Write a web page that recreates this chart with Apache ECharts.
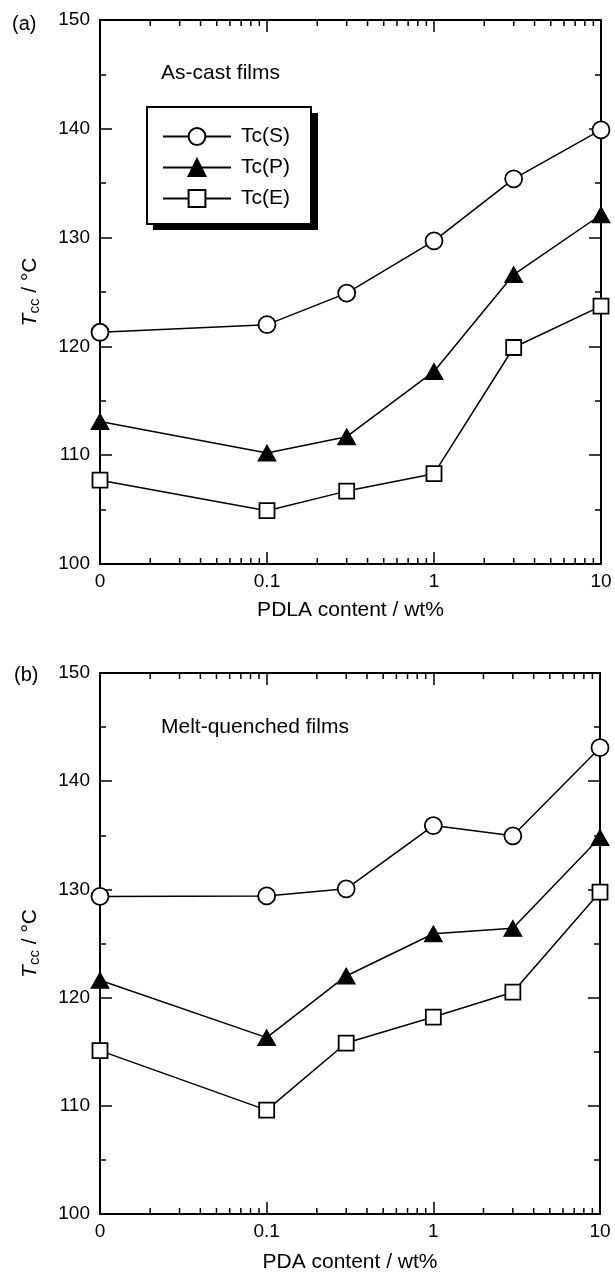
<!DOCTYPE html>
<html>
<head>
<meta charset="utf-8">
<script src="https://cdn.jsdelivr.net/npm/echarts@6/dist/echarts.min.js"></script>
<style>
html,body{margin:0;padding:0;background:#fff;}
#chart{width:615px;height:1274px;}
</style>
</head>
<body>
<div id="chart"></div>
<script>
// ---- data ----
const contents = [0, 0.1, 0.3, 1, 3, 10];           // wt%
const xTickLabels = ['0', '0.1', '1', '10'];
const yTicks = [100, 110, 120, 130, 140, 150];
const seriesNames = ['Tc(S)', 'Tc(P)', 'Tc(E)'];
const castS = [121.3, 122.0, 124.9, 129.7, 135.4, 139.9];
const castP = [113.1, 110.2, 111.7, 117.7, 126.6, 132.1];
const castE = [107.7, 104.9, 106.7, 108.3, 119.9, 123.7];
const meltS = [129.35, 129.4, 130.05, 135.9, 134.95, 143.1];
const meltP = [121.6, 116.3, 122.0, 125.9, 126.4, 134.8];
const meltE = [115.1, 109.6, 115.8, 118.2, 120.5, 129.75];
const panelLabels = ['(a)', '(b)'];
const panelNotes = ['As-cast films', 'Melt-quenched films'];
const xNames = ['PDLA content / wt%', 'PDA content / wt%'];

// ---- helpers ----
const FONT = "'Liberation Sans', Arial, Helvetica, sans-serif";
const LOG_MIN = -2, LOG_MAX = 1;           // axis spans 0.01 .. 10, "0" drawn at the left end
const pos = v => v === 0 ? LOG_MIN : Math.log10(v);
const minorVals = [];
for (let d = LOG_MIN; d < LOG_MAX; d++) for (let k = 2; k <= 9; k++) minorVals.push(Math.log10(k) + d);

const grids = [
  {left: 100, top: 20, width: 501, height: 544},
  {left: 100, top: 673, width: 500, height: 544}
];

const xAxes = [], yAxes = [], series = [];
grids.forEach((g, gi) => {
  xAxes.push({
    type: 'value', gridIndex: gi, min: LOG_MIN, max: LOG_MAX, interval: 1,
    position: 'bottom',
    axisLine: {show: true, onZero: false, lineStyle: {color: '#000', width: 2}},
    axisTick: {show: true, inside: true, length: 12, lineStyle: {color: '#000', width: 1.5}},
    axisLabel: {show: true, margin: 8, color: '#000', fontSize: 19, fontFamily: FONT,
      formatter: v => xTickLabels[Math.round(v - LOG_MIN)]},
    splitLine: {show: false},
    name: xNames[gi], nameLocation: 'middle', nameGap: gi === 0 ? 36 : 38,
    nameTextStyle: {color: '#000', fontSize: 21, fontFamily: FONT}
  });
  xAxes.push({
    type: 'value', gridIndex: gi, min: LOG_MIN, max: LOG_MAX, interval: 1,
    position: 'top',
    axisLine: {show: true, onZero: false, lineStyle: {color: '#000', width: 2}},
    axisTick: {show: true, inside: true, length: 12, lineStyle: {color: '#000', width: 1.5}},
    axisLabel: {show: false}, splitLine: {show: false}
  });
  yAxes.push({
    type: 'value', gridIndex: gi, min: yTicks[0], max: yTicks[yTicks.length - 1], interval: 10,
    position: 'left',
    axisLine: {show: true, onZero: false, lineStyle: {color: '#000', width: 2}},
    axisTick: {show: true, inside: true, length: 12, lineStyle: {color: '#000', width: 1.5}},
    minorTick: {show: true, splitNumber: 2, length: 6, lineStyle: {color: '#000', width: 1.5}},
    axisLabel: {show: true, margin: 10, color: '#000', fontSize: 19, fontFamily: FONT},
    splitLine: {show: false},
    name: '{i|T}{s|cc}{n| / °C}', nameLocation: 'middle', nameGap: 58, nameRotate: 90,
    nameTextStyle: {
      color: '#000', fontFamily: FONT,
      rich: {
        i: {fontSize: 21, fontStyle: 'italic', fontFamily: FONT, color: '#000'},
        s: {fontSize: 15, fontFamily: FONT, color: '#000', padding: [9, 0, 0, 0]},
        n: {fontSize: 21, fontFamily: FONT, color: '#000'}
      }
    }
  });
  yAxes.push({
    type: 'value', gridIndex: gi, min: yTicks[0], max: yTicks[yTicks.length - 1], interval: 10,
    position: 'right',
    axisLine: {show: true, onZero: false, lineStyle: {color: '#000', width: 2}},
    axisTick: {show: true, inside: true, length: 12, lineStyle: {color: '#000', width: 1.5}},
    minorTick: {show: true, splitNumber: 2, length: 6, lineStyle: {color: '#000', width: 1.5}},
    axisLabel: {show: false}, splitLine: {show: false}
  });
});

const panelData = [[castS, castP, castE], [meltS, meltP, meltE]];
const symbolDefs = [
  {symbol: 'circle', symbolSize: 17, itemStyle: {color: '#fff', borderColor: '#000', borderWidth: 1.8}},
  {symbol: 'triangle', symbolSize: [18, 16], itemStyle: {color: '#000', borderColor: '#000', borderWidth: 1}},
  {symbol: 'rect', symbolSize: 15, itemStyle: {color: '#fff', borderColor: '#000', borderWidth: 1.8}}
];

panelData.forEach((arrs, gi) => {
  arrs.forEach((vals, si) => {
    const sd = symbolDefs[si];
    series.push({
      type: 'line', name: seriesNames[si],
      xAxisIndex: gi * 2, yAxisIndex: gi * 2,
      data: contents.map((c, i) => [pos(c), vals[i]]),
      symbol: sd.symbol, symbolSize: sd.symbolSize, showAllSymbol: true,
      lineStyle: {color: '#000', width: 1.5},
      itemStyle: sd.itemStyle,
      emphasis: {disabled: true},
      clip: false, z: 3 + si, animation: false
    });
  });
  // minor log ticks on bottom and top x axes
  series.push({
    type: 'custom', xAxisIndex: gi * 2, yAxisIndex: gi * 2, silent: true, clip: false, z: 10,
    animation: false,
    data: minorVals.map(v => [v]),
    renderItem: (params, api) => {
      const b = api.coord([api.value(0), yTicks[0]]);
      const t = api.coord([api.value(0), yTicks[yTicks.length - 1]]);
      const st = {stroke: '#000', lineWidth: 1.5};
      return {type: 'group', children: [
        {type: 'line', shape: {x1: b[0], y1: b[1], x2: b[0], y2: b[1] - 6}, style: st},
        {type: 'line', shape: {x1: t[0], y1: t[1], x2: t[0], y2: t[1] + 6}, style: st}
      ]};
    }
  });
});

const chart = echarts.init(document.getElementById('chart'), null, {renderer: 'canvas'});
chart.setOption({
  backgroundColor: '#fff',
  animation: false,
  grid: grids,
  xAxis: xAxes,
  yAxis: yAxes,
  legend: {
    show: true, orient: 'vertical', left: 147, top: 107, z: 20,
    data: seriesNames,
    itemWidth: 68, itemHeight: 21, itemGap: 10,
    padding: [19, 21, 15, 15],
    backgroundColor: '#fff', borderColor: '#000', borderWidth: 2, borderRadius: 0,
    textStyle: {color: '#000', fontSize: 21, fontFamily: FONT, padding: [0, 0, 0, 5]},
    selectedMode: false
  },
  graphic: [
    // drop shadow of the legend box
    {type: 'rect', left: 153, top: 113, z: 1, silent: true,
      shape: {width: 165, height: 117}, style: {fill: '#000'}},
    {type: 'text', left: 12, top: 14, style: {text: panelLabels[0], fontSize: 20, fontFamily: FONT, fill: '#000'}},
    {type: 'text', left: 14, top: 665, style: {text: panelLabels[1], fontSize: 20, fontFamily: FONT, fill: '#000'}},
    {type: 'text', left: 161, top: 63, style: {text: panelNotes[0], fontSize: 21, fontFamily: FONT, fill: '#000'}},
    {type: 'text', left: 161, top: 717, style: {text: panelNotes[1], fontSize: 21, fontFamily: FONT, fill: '#000'}}
  ],
  series: series
});
</script>
</body>
</html>
